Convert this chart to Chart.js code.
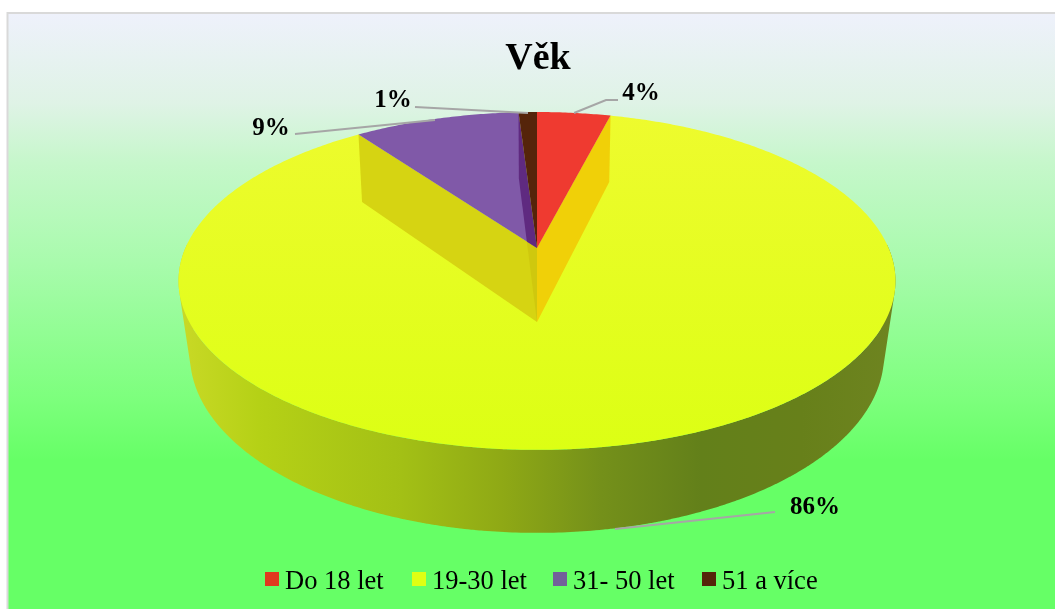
<!DOCTYPE html>
<html lang="cs">
<head>
    <meta charset="UTF-8">
    <title>Věk</title>
    <script src="https://cdn.jsdelivr.net/npm/chart.js"></script>
    <style>
        html, body { margin: 0; padding: 0; background: #fff; }
        canvas { display: block; }
    </style>
</head>
<body>
    <canvas id="ageChart" width="1055" height="609"></canvas>

    <script>
        const categories = ['Do 18 let', '19-30 let', '31- 50 let', '51 a více'];
        const values = [4, 86, 9, 1];
        const sliceColors = ['#ef3a30', '#e6fb20', '#8059a8', '#55240a'];
        const legendColors = ['#e03a1e', '#dfff14', '#72609a', '#55240a'];

        const serif = '"Liberation Serif", "Times New Roman", serif';

        // pie geometry, measured on the picture (perspective view from above)
        const cx = 537, cy = 248;
        const scaleX = 351.6, scaleY = 162.5, persp = -0.195;

        // label box centre + leader line, one per slice
        const labelSpots = [
            { x: 641, y: 94, line: [[574, 113], [606, 100], [618, 100]] },
            { x: 815, y: 508, line: [[615, 529], [775, 512]] },
            { x: 271, y: 129, line: [[435, 120], [295, 134]] },
            { x: 393, y: 101, line: [[528, 113], [415, 107]] }
        ];
        const legendSpots = [265, 412, 553, 702];

        // angle is clockwise from 12 o'clock
        function topPoint(a) {
            const u = Math.sin(a), v = -Math.cos(a);
            const w = 1 + persp * v;
            return { x: cx + scaleX * u / w, y: cy + scaleY * v / w, v: v };
        }
        function lowPoint(a) {
            const p = topPoint(a);
            const xs = 0.9704 - 0.012 * p.v;
            return { x: cx + (p.x - cx) * xs, y: p.y + 74.5 + 8.5 * p.v };
        }
        const tipTop = { x: cx, y: cy };
        const tipLow = { x: cx, y: cy + 74 };

        function addPoints(ctx, pts) {
            pts.forEach((p, i) => i ? ctx.lineTo(p.x, p.y) : ctx.moveTo(p.x, p.y));
            ctx.closePath();
        }
        function polygon(ctx, pts, fill) {
            ctx.beginPath();
            addPoints(ctx, pts);
            if (fill) {
                ctx.fillStyle = fill;
                ctx.fill();
            }
        }
        function signedArea(pts) {
            let s = 0;
            pts.forEach((p, i) => {
                const q = pts[(i + 1) % pts.length];
                s += p.x * q.y - q.x * p.y;
            });
            return s;
        }
        function slicePoints(a0, a1) {
            const pts = [tipTop];
            const steps = Math.max(2, Math.ceil((a1 - a0) / 0.01));
            for (let i = 0; i <= steps; i++) pts.push(topPoint(a0 + (a1 - a0) * i / steps));
            return pts;
        }
        function cutWall(a) {
            return [topPoint(a), tipTop, tipLow, lowPoint(a)];
        }

        const backgroundPlugin = {
            id: 'backgroundPlugin',
            beforeDraw(chart) {
                const ctx = chart.ctx;
                const g = ctx.createLinearGradient(0, 14, 0, 609);
                g.addColorStop(0, '#eef1fb');
                g.addColorStop(0.15, '#dff3e6');
                g.addColorStop(0.25, '#c6f7cb');
                g.addColorStop(0.42, '#a8fbac');
                g.addColorStop(0.65, '#7cff7c');
                g.addColorStop(0.75, '#66ff66');
                g.addColorStop(1, '#66ff66');
                ctx.fillStyle = g;
                ctx.fillRect(8, 13, 1047, 596);
                ctx.strokeStyle = '#d9d9d9';
                ctx.lineWidth = 2;
                ctx.beginPath();
                ctx.moveTo(7.5, 609);
                ctx.lineTo(7.5, 13);
                ctx.lineTo(1055, 13);
                ctx.stroke();
            }
        };

        // replaces the flat arcs with the tilted pie, angles come from the arc elements
        const pie3d = {
            id: 'pie3d',
            beforeDatasetsDraw(chart) {
                const ctx = chart.ctx;
                const arcs = chart.getDatasetMeta(0).data.map(el => ({
                    a0: el.startAngle + Math.PI / 2,
                    a1: el.endAngle + Math.PI / 2
                }));
                const [red, yellow, purple, brown] = arcs;
                ctx.save();

                // outer wall, quads in one path so the sides keep a straight silhouette
                const wall = ctx.createLinearGradient(180, 0, 894, 0);
                wall.addColorStop(0, '#c9d926');
                wall.addColorStop(0.11, '#b5d116');
                wall.addColorStop(0.31, '#a3c015');
                wall.addColorStop(0.45, '#8fa915');
                wall.addColorStop(0.59, '#74901a');
                wall.addColorStop(0.73, '#63801a');
                wall.addColorStop(0.87, '#67801a');
                wall.addColorStop(1, '#6e8420');
                ctx.beginPath();
                for (let a = 1.55; a <= 2 * Math.PI - 1.55; a += 0.01) {
                    const quad = [topPoint(a), topPoint(a + 0.012), lowPoint(a + 0.012), lowPoint(a)];
                    // same winding for every quad, otherwise the side ones cancel out
                    if (signedArea(quad) < 0) quad.reverse();
                    addPoints(ctx, quad);
                }
                ctx.fillStyle = wall;
                ctx.fill();

                // big slice
                const top = ctx.createLinearGradient(0, 112, 0, 450);
                top.addColorStop(0, '#eefb2e');
                top.addColorStop(1, '#dcff14');
                polygon(ctx, slicePoints(yellow.a0, yellow.a1), top);

                // inner cut walls seen through the gap
                polygon(ctx, cutWall(purple.a0), '#d6d412');
                polygon(ctx, cutWall(brown.a0), '#cfc80e');
                polygon(ctx, cutWall(red.a1), '#f0d008');

                polygon(ctx, slicePoints(purple.a0, purple.a1), sliceColors[2]);
                ctx.save();
                polygon(ctx, slicePoints(purple.a0, purple.a1));
                ctx.clip();
                polygon(ctx, cutWall(brown.a0), '#5f2a80');
                ctx.restore();
                polygon(ctx, slicePoints(brown.a0, brown.a1), sliceColors[3]);
                polygon(ctx, slicePoints(red.a0, red.a1), sliceColors[0]);

                ctx.restore();
                return false;
            },
            afterDraw(chart) {
                const ctx = chart.ctx;
                ctx.save();

                // leader lines and percent labels
                ctx.strokeStyle = '#a6a6a6';
                ctx.lineWidth = 2;
                labelSpots.forEach(s => {
                    ctx.beginPath();
                    s.line.forEach((p, i) => i ? ctx.lineTo(p[0], p[1]) : ctx.moveTo(p[0], p[1]));
                    ctx.stroke();
                });
                ctx.fillStyle = '#000';
                ctx.font = 'bold 25px ' + serif;
                ctx.textAlign = 'center';
                ctx.textBaseline = 'middle';
                labelSpots.forEach((s, i) => ctx.fillText(values[i] + '%', s.x, s.y));

                // legend
                ctx.font = '26.5px ' + serif;
                ctx.textAlign = 'left';
                ctx.textBaseline = 'alphabetic';
                categories.forEach((c, i) => {
                    ctx.fillStyle = legendColors[i];
                    ctx.fillRect(legendSpots[i], 572, 14, 14);
                    ctx.fillStyle = '#000';
                    ctx.fillText(c, legendSpots[i] + 20, 589);
                });
                ctx.restore();
            }
        };

        new Chart(document.getElementById('ageChart'), {
            type: 'pie',
            data: {
                labels: categories,
                datasets: [{ data: values, backgroundColor: sliceColors, borderWidth: 0 }]
            },
            options: {
                responsive: false,
                animation: false,
                layout: { padding: { left: 21 } },
                plugins: {
                    legend: { display: false },
                    tooltip: { enabled: false },
                    title: {
                        display: true,
                        text: 'Věk',
                        color: '#000',
                        font: { family: serif, size: 38, weight: 'bold' },
                        padding: { top: 36, bottom: 10 }
                    }
                }
            },
            plugins: [backgroundPlugin, pie3d]
        });
    </script>
</body>
</html>
